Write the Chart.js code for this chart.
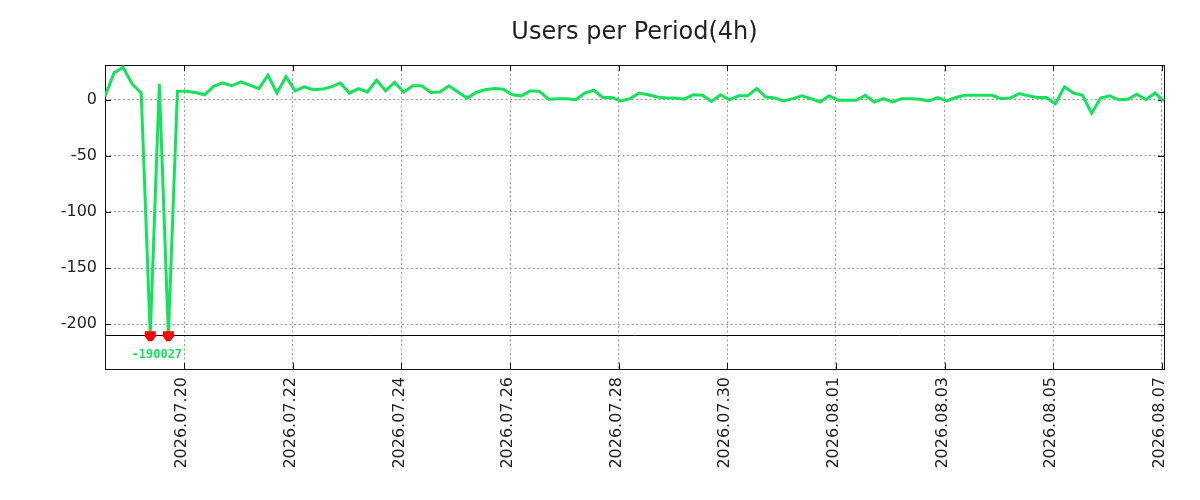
<!DOCTYPE html>
<html>
<head>
<meta charset="utf-8">
<script src="https://cdn.jsdelivr.net/npm/chart.js@4/dist/chart.umd.min.js"></script>
<style>
  html, body { margin: 0; padding: 0; background: #ffffff; }
  #wrap { width: 1200px; height: 500px; position: relative; }
</style>
</head>
<body>
<div id="wrap"><canvas id="c" width="1200" height="500"></canvas></div>
<script>
// ---- data ----
const chartTitle = 'Users per Period(4h)';
const baseDateUTC = Date.UTC(2026, 6, 18);   // 2026.07.18 00:00
const periodStartHour = 13;                  // first period starts 2026.07.18 13:00
const periodHours = 4;
const users = [
  3, 24, 29, 14, 6, -19802, 14, -19827, 7.5, 7.5,
  6.5, 4.5, 12, 15, 12.5, 16, 13, 10, 22, 6,
  20.5, 8, 11.5, 9, 9.5, 11.5, 15, 6, 10, 7,
  17.5, 8, 15.5, 7, 12.5, 12.5, 6.5, 7, 12.5, 7,
  1.5, 6.5, 9, 10, 9.5, 4.5, 3.5, 8, 7.5, 0.5,
  1, 1, 0, 6, 8.5, 2, 2, -1, 1, 6,
  4.5, 2.5, 1.5, 1.5, 0.5, 4.5, 4, -1.5, 4.5, 0,
  3.5, 3.5, 10, 2.5, 1.5, -1, 1, 3.5, 1, -2,
  3.5, -0.5, -0.5, -0.5, 4, -2, 1, -2, 1, 1,
  0.5, -1, 2, -1, 2, 4, 4, 4, 4, 1,
  1.5, 5.5, 3.5, 2, 2, -3.5, 11.5, 6, 4, -12,
  1.5, 3.5, 0, 0.5, 5, 0, 6, -1
];
const clipFloor = -210;
const overflowLabel = '-190027';
const yMin = -240;
const yMax = 31;
const yTicks = [0, -50, -100, -150, -200];
const xTickLabels = [
  '2026.07.20', '2026.07.22', '2026.07.24', '2026.07.26', '2026.07.28',
  '2026.07.30', '2026.08.01', '2026.08.03', '2026.08.05', '2026.08.07'
];

// ---- derived ----
function labelToHours(lbl) {
  const p = lbl.split('.').map(Number);
  return (Date.UTC(p[0], p[1] - 1, p[2]) - baseDateUTC) / 3600000;
}
const xTickHours = xTickLabels.map(labelToHours);
const points = users.map((v, i) => ({ x: periodStartHour + i * periodHours, y: Math.max(v, clipFloor) }));
const clippedIdx = users.map((v, i) => v < clipFloor ? i : -1).filter(i => i >= 0);

const LINE_COLOR = '#14e35a';
const GRID_COLOR = '#9a9a9a';
const TEXT_COLOR = '#222222';

const framePlugin = {
  id: 'frame',
  beforeDatasetsDraw(chart) {
    const { ctx, chartArea: a, scales: { x, y } } = chart;
    ctx.save();
    // clip floor line
    const fy = Math.round(y.getPixelForValue(clipFloor)) + 0.5;
    ctx.strokeStyle = '#000';
    ctx.lineWidth = 1;
    ctx.beginPath();
    ctx.moveTo(a.left, fy); ctx.lineTo(a.right, fy);
    ctx.stroke();
    // frame
    ctx.strokeStyle = '#111';
    ctx.strokeRect(Math.round(a.left) + 0.5, Math.round(a.top) + 0.5,
      Math.round(a.right - a.left), Math.round(a.bottom - a.top));
    // tick marks (inward, mirrored)
    ctx.beginPath();
    yTicks.forEach(v => {
      const py = Math.round(y.getPixelForValue(v)) + 0.5;
      ctx.moveTo(a.left, py); ctx.lineTo(a.left + 6, py);
      ctx.moveTo(a.right, py); ctx.lineTo(a.right - 6, py);
    });
    xTickHours.forEach(h => {
      const px = Math.round(x.getPixelForValue(h)) + 0.5;
      ctx.moveTo(px, a.top); ctx.lineTo(px, a.top + 6);
      ctx.moveTo(px, a.bottom); ctx.lineTo(px, a.bottom - 6);
    });
    ctx.stroke();
    ctx.restore();
  },
  afterDatasetsDraw(chart) {
    const { ctx, scales: { x, y } } = chart;
    ctx.save();
    const fy = y.getPixelForValue(clipFloor);
    ctx.fillStyle = '#ff0000';
    const xs = [];
    clippedIdx.forEach(i => {
      const px = x.getPixelForValue(points[i].x);
      xs.push(px);
      ctx.beginPath();
      ctx.moveTo(px - 5.5, fy - 4);
      ctx.lineTo(px + 5.5, fy - 4);
      ctx.lineTo(px + 5.5, fy + 1);
      ctx.lineTo(px + 2, fy + 6);
      ctx.lineTo(px - 2, fy + 6);
      ctx.lineTo(px - 5.5, fy + 1);
      ctx.closePath();
      ctx.fill();
    });
    if (xs.length) {
      const cx = (Math.min(...xs) + Math.max(...xs)) / 2 - 2.5;
      ctx.font = 'bold 12px "DejaVu Sans Mono"';
      ctx.fillStyle = LINE_COLOR;
      ctx.textAlign = 'center';
      ctx.textBaseline = 'middle';
      ctx.fillText(overflowLabel, cx, fy + 20);
    }
    ctx.restore();
  },
  afterDraw(chart) {
    const { ctx, chartArea: a } = chart;
    ctx.save();
    ctx.font = '24px "DejaVu Sans"';
    ctx.fillStyle = TEXT_COLOR;
    ctx.textAlign = 'center';
    ctx.textBaseline = 'alphabetic';
    ctx.fillText(chartTitle, (a.left + a.right) / 2, 39);
    ctx.restore();
  }
};

new Chart(document.getElementById('c'), {
  type: 'line',
  data: {
    datasets: [{
      label: 'users',
      data: points,
      borderColor: LINE_COLOR,
      backgroundColor: LINE_COLOR,
      borderWidth: 3,
      pointRadius: 0,
      tension: 0,
      fill: false
    }]
  },
  options: {
    responsive: false,
    animation: false,
    devicePixelRatio: 1,
    layout: { padding: { top: 65, right: 36, left: 0, bottom: 0 } },
    plugins: { legend: { display: false }, tooltip: { enabled: false }, title: { display: false } },
    scales: {
      x: {
        type: 'linear',
        min: points[0].x,
        max: points[points.length - 1].x,
        afterBuildTicks: s => { s.ticks = xTickHours.map(v => ({ value: v })); },
        afterFit: s => { s.height = 131; },
        grid: { color: GRID_COLOR, drawTicks: false, lineWidth: 1 },
        border: { display: false, dash: [2, 2.5] },
        ticks: {
          autoSkip: false,
          minRotation: 90,
          maxRotation: 90,
          padding: 8,
          labelOffset: -2,
          color: TEXT_COLOR,
          font: { family: 'DejaVu Sans', size: 16 },
          callback: v => { const k = xTickHours.indexOf(v); return k >= 0 ? xTickLabels[k] : ''; }
        }
      },
      y: {
        type: 'linear',
        min: yMin,
        max: yMax,
        afterBuildTicks: s => { s.ticks = yTicks.map(v => ({ value: v })); },
        afterFit: s => { s.width = 105; },
        grid: { color: GRID_COLOR, drawTicks: false, lineWidth: 1 },
        border: { display: false, dash: [2, 2.5] },
        ticks: {
          padding: 8,
          color: TEXT_COLOR,
          font: { family: 'DejaVu Sans', size: 16 },
          callback: v => String(v)
        }
      }
    }
  },
  plugins: [framePlugin]
});
</script>
</body>
</html>
